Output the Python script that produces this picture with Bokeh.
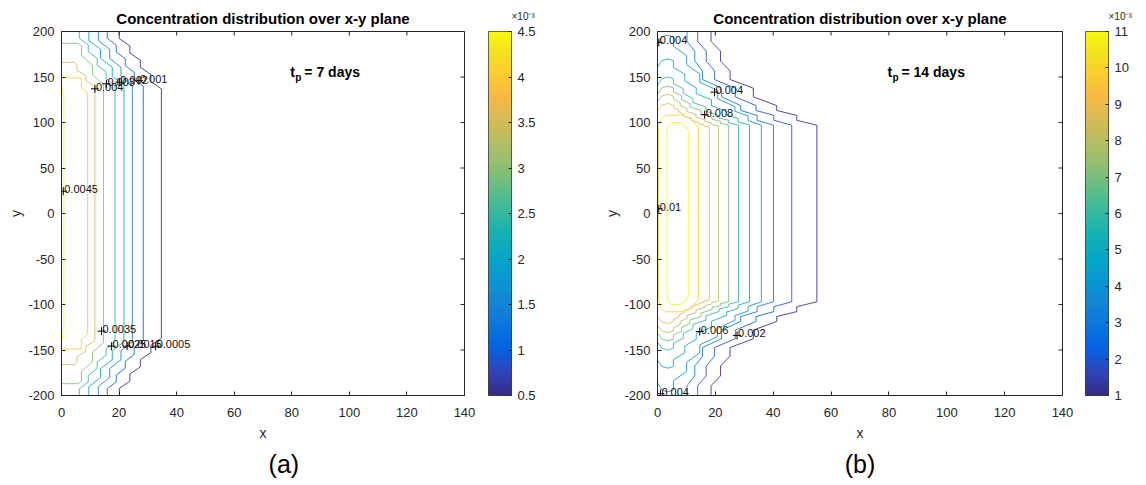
import numpy as np
from bokeh.plotting import figure
from bokeh.layouts import row
from bokeh.models import (Range1d, FixedTicker, LinearColorMapper, LinearAxis, Title,
                          CustomJSTickFormatter, ColumnDataSource)
from bokeh.core.properties import value
from bokeh.embed import file_html
from bokeh.resources import INLINE

FONT = "Liberation Sans"
INK = "#262626"
FIG_H = 484
FRAME_TOP = 31      # distance of the axes box from the page top
FRAME_H = 364

# ---------------- data ----------------
X_TICKS = [0, 20, 40, 60, 80, 100, 120, 140]
Y_TICKS = [-200, -150, -100, -50, 0, 50, 100, 150, 200]
TITLE = "Concentration distribution over x-y plane"
TP_TEXT = ["= 7 days", "= 14 days"]
PANEL_TAGS = ["\u00a0" * 6 + "(a)", "(b)"]
CBAR_EXPONENT = "\u00d710\u207b\u00b3"

# panel (a): t_p = 7 days, contour levels in units of 1e-3
A_CBAR_TICKS = [0.5, 1, 1.5, 2, 2.5, 3, 3.5, 4, 4.5]
A_LEVELS = [0.5, 1.0, 1.5, 2.0, 2.5, 3.0, 3.5, 4.0, 4.5]
A_X_SIDE = [34.7, 28.4, 24.6, 21.7, 18.6, 14.6, 11.6, 9.1, 0.8]     # x of straight part
A_Y_SIDE = [137, 140, 141, 141, 141, 142, 140, 132, 128]             # |y| where it ends
A_X_OPEN = [20.1, 15.9, 12.8, 9.5, 6.2, 0.0, 0.0, 0.0, 0.0]          # x where it meets y=+-200
A_Y_OPEN = [200, 200, 200, 200, 200, 187, 166, 149, 140]             # |y| where it meets boundary
A_X_FLAT = [0.0, 0.0, 0.0, 0.0, 0.0, 5.9, 4.5, 6.6, 0.0]             # flat top of arches
A_LABEL_TEXT = ["0.0045", "0.004", "0.003", "0.002", "0.001", "0.0035", "0.0025", "0.0015", "0.0005"]
A_LABEL_X = [0.6, 11.6, 15.6, 20.1, 26.9, 13.9, 17.4, 22.8, 32.7]
A_LABEL_Y = [24.5, 137, 142.5, 144.3, 146, -129.3, -145.8, -145.8, -145.8]

# panel (b): t_p = 14 days, contour levels in units of 1e-3
B_CBAR_TICKS = [1, 2, 3, 4, 5, 6, 7, 8, 9, 10, 11]
B_LEVELS = [1, 2, 3, 4, 5, 6, 7, 8, 9, 10, 11]
B_X_SIDE = [55.1, 46.4, 40.1, 35.9, 31.8, 28.0, 24.6, 21.1, 17.9, 14.2, 10.8]
B_Y_SIDE = [97, 97, 97, 97, 97, 97, 97, 96, 95, 94, 90]
B_X_OPEN = [18.5, 13.9, 10.2, 0.0, 0.0, 0.0, 0.0, 0.0, 0.0, 0.3, 3.3]
B_Y_OPEN = [200, 200, 200, 186, 161, 141, 131, 123, 113, 95, 90]
B_Y_TOP = [200, 200, 200, 196, 170, 150, 140, 131, 121, 108, 100]
B_CLOSED = [False] * 9 + [True, True]
B_LABEL_TEXT = ["0.004", "0.004", "0.008", "0.01", "0.006", "0.002", "0.004"]
B_LABEL_X = [0.45, 19.7, 16.3, 0.45, 14.6, 27.5, 1.0]
B_LABEL_Y = [188, 133.3, 108.5, 5.2, -129.7, -134, -198]

# parula colormap anchors
PARULA_T = [0, 4, 8, 12, 16, 20, 24, 28, 32, 36, 40, 44, 48, 52, 56, 60, 63]
PARULA_RGB = [
    (0.2081, 0.1663, 0.5292), (0.1959, 0.2645, 0.7279), (0.0117, 0.3875, 0.8820),
    (0.0498, 0.4586, 0.8641), (0.0793, 0.5200, 0.8312), (0.0343, 0.5966, 0.8199),
    (0.0228, 0.6535, 0.7768), (0.0843, 0.6928, 0.7062), (0.2178, 0.7250, 0.6193),
    (0.3953, 0.7459, 0.5244), (0.5709, 0.7485, 0.4494), (0.7184, 0.7411, 0.3905),
    (0.8507, 0.7299, 0.3360), (0.9739, 0.7314, 0.2666), (0.9880, 0.8066, 0.1794),
    (0.9589, 0.8949, 0.1132), (0.9763, 0.9831, 0.0538)]


def parula(t):
    t = min(max(t, 0.0), 1.0) * 63.0
    rgb = [np.interp(t, PARULA_T, [c[k] for c in PARULA_RGB]) for k in range(3)]
    return "#%02x%02x%02x" % tuple(int(round(v * 255)) for v in rgb)


PALETTE = [parula(i / 255.0) for i in range(256)]


# ---------------- contour geometry helpers ----------------
def stairs(x0, y0, x1, y1, n, vfrac=0.5):
    pts = []
    dx = (x1 - x0) / n
    dy = (y1 - y0) / n
    for k in range(n):
        xa, ya = x0 + k * dx, y0 + k * dy
        pts.append((xa, ya + vfrac * dy))
        pts.append((xa + dx, ya + dy))
    return pts


def curve(x0, y0, x1, y1, ts, fs):
    pts = []
    prev = (x0, y0)
    for t, f in zip(ts[1:], fs[1:]):
        nxt = (x0 + f * (x1 - x0), y0 + t * (y1 - y0))
        pts += stairs(prev[0], prev[1], nxt[0], nxt[1], 2)
        prev = nxt
    return pts


def full_path(top, closed=False):
    pts = list(top) + [(x, -y) for (x, y) in reversed(top)]
    if closed:
        pts.append(top[0])
    return [p[0] for p in pts], [p[1] for p in pts]


def a_top(i):
    xs, ys = A_X_SIDE[i], A_Y_SIDE[i]
    xo, yo, xf = A_X_OPEN[i], A_Y_OPEN[i], A_X_FLAT[i]
    if yo >= 200:
        n = max(1, int(round((xs - xo) / 3.5)))
        return [(xo, 200)] + stairs(xo, 200, xs, ys, n)
    if xf > 0:
        xc = xf + 0.12 * (xs - xf)
        n = max(1, int(round((xs - xc) / 3.5)))
        return [(0, yo), (xf, yo), (xc, yo - 3)] + stairs(xc, yo - 3, xs, ys, n)
    return [(0, yo), (xs, ys)]


OUT_T, OUT_F = [0.0, 0.42, 0.79, 1.0], [0.0, 0.18, 0.62, 1.0]
ARC_T, ARC_F = [0.0, 0.42, 0.79, 1.0], [0.0, 0.30, 0.70, 1.0]


def b_top(i):
    xs, ys = B_X_SIDE[i], B_Y_SIDE[i]
    xo, yo, yt = B_X_OPEN[i], B_Y_OPEN[i], B_Y_TOP[i]
    if B_CLOSED[i]:
        w, h = xs - xo, yt - yo
        return [(xo, yo), (xo + 0.06 * w, yo + 0.6 * h), (xo + 0.18 * w, yt),
                (xo + 0.6 * w, yt), (xo + 0.84 * w, yt - 0.35 * h), (xs, ys)]
    if yo >= 200:
        return [(xo, 200)] + curve(xo, 200, xs, ys, OUT_T, OUT_F)
    return [(0, yo), (1.5, yt - 2), (3.5, yt), (5.5, yt - 2)] + curve(5.5, yt - 2, xs, ys, ARC_T, ARC_F)


# ---------------- figures ----------------
def style_axis(ax):
    ax.axis_line_color = INK
    ax.major_tick_line_color = INK
    ax.major_tick_in = 4
    ax.major_tick_out = 0
    ax.minor_tick_line_color = None
    ax.major_label_text_font = FONT
    ax.major_label_text_color = INK
    ax.major_label_text_font_size = "13px"
    ax.axis_label_text_font = FONT
    ax.axis_label_text_font_style = "normal"
    ax.axis_label_text_font_size = "14px"
    ax.axis_label_text_color = INK
    ax.formatter = CustomJSTickFormatter(code="return String(tick);")


def main_fig(width, left, frame_w, levels, lo, hi, tops, closed, lab_x, lab_y, lab_t, tp, tag):
    p = figure(width=width, height=FIG_H, x_range=Range1d(0, 140), y_range=Range1d(-200, 200),
               output_backend="svg", toolbar_location=None,
               min_border_left=left, min_border_right=width - left - frame_w,
               min_border_top=FRAME_TOP, min_border_bottom=FIG_H - FRAME_TOP - FRAME_H,
               x_axis_label="x", y_axis_label="y")
    p.xgrid.visible = False
    p.ygrid.visible = False
    p.outline_line_color = INK
    p.background_fill_color = "white"
    p.border_fill_color = "white"
    p.xaxis.ticker = FixedTicker(ticks=X_TICKS)
    p.yaxis.ticker = FixedTicker(ticks=Y_TICKS)
    style_axis(p.xaxis[0])
    style_axis(p.yaxis[0])
    p.xaxis.major_label_standoff = 12
    p.yaxis.major_label_standoff = 7
    p.xaxis.axis_label_standoff = 5
    p.yaxis.axis_label_standoff = 1

    p.title.text = TITLE
    p.title.align = "center"
    p.title.text_font = FONT
    p.title.text_font_size = "15px"
    p.title.text_font_style = "bold"
    p.title.text_color = "black"
    p.title.standoff = 10

    # panel tag "(a)" / "(b)" under the x label
    tag_axis = LinearAxis(ticker=FixedTicker(ticks=[]), axis_label=tag,
                          axis_line_color=None, major_tick_line_color=None,
                          minor_tick_line_color=None, major_label_standoff=0,
                          axis_label_standoff=6, axis_label_text_font=FONT,
                          axis_label_text_font_size="25px", axis_label_text_font_style="normal",
                          axis_label_text_color="black")
    p.add_layout(tag_axis, "below")

    # box ticks on top and right edges (pointing inwards)
    p.scatter(X_TICKS, [200] * len(X_TICKS), marker="dash", angle=np.pi / 2, size=8,
              line_color=INK, line_width=1)
    p.scatter([140] * len(Y_TICKS), Y_TICKS, marker="dash", size=8, line_color=INK, line_width=1)

    xs, ys, cols = [], [], []
    for i, lev in enumerate(levels):
        px, py = full_path(tops[i], closed[i])
        xs.append(px)
        ys.append(py)
        cols.append(parula((lev - lo) / (hi - lo)))
    src = ColumnDataSource(dict(xs=xs, ys=ys, color=cols, level=levels))
    p.multi_line(xs="xs", ys="ys", line_color="color", line_width=1, line_alpha=0.85, source=src)

    p.scatter(lab_x, lab_y, marker="cross", size=8, line_color="black", line_width=1)
    p.text(lab_x, lab_y, text=lab_t, text_font=value(FONT), text_font_size="11px",
           text_color="#111111", text_baseline="alphabetic", x_offset=1, y_offset=-2)

    tx, ty = 79.5, 155
    p.text([tx], [ty], text=["t"], text_font=value(FONT), text_font_size="14px",
           text_font_style="bold", text_baseline="middle", text_color="black")
    p.text([tx], [ty], text=["p"], text_font=value(FONT), text_font_size="10px",
           text_font_style="bold", text_baseline="middle", text_color="black",
           x_offset=5, y_offset=5)
    p.text([tx], [ty], text=[tp], text_font=value(FONT), text_font_size="14px",
           text_font_style="bold", text_baseline="middle", text_color="black",
           x_offset=14)
    return p


def cbar_fig(width, lo, hi, ticks):
    bar_w = 23
    c = figure(width=width, height=FIG_H, x_range=Range1d(0, 1), y_range=Range1d(lo, hi),
               output_backend="svg", toolbar_location=None, x_axis_location=None,
               y_axis_location="right", min_border_left=8, min_border_right=width - 8 - bar_w,
               min_border_top=FRAME_TOP, min_border_bottom=FIG_H - FRAME_TOP - FRAME_H)
    c.grid.visible = False
    c.outline_line_color = "#3c3c3c"
    c.border_fill_color = "white"
    c.title = Title(text=CBAR_EXPONENT, align="left", offset=bar_w, text_font=FONT,
                    text_font_size="10px", text_font_style="normal", text_color=INK,
                    vertical_align="top", standoff=16)
    grad = np.linspace(lo, hi, 256).reshape(-1, 1)
    c.image(image=[grad], x=0, y=lo, dw=1, dh=hi - lo,
            color_mapper=LinearColorMapper(palette=PALETTE, low=lo, high=hi))
    ax = c.yaxis[0]
    ax.ticker = FixedTicker(ticks=ticks)
    style_axis(ax)
    ax.axis_line_color = None
    ax.major_tick_in = 3
    ax.major_tick_out = 0
    ax.major_label_standoff = 6
    return c


a_tops = [a_top(i) for i in range(len(A_LEVELS))]
b_tops = [b_top(i) for i in range(len(B_LEVELS))]

pA = main_fig(480, 61, 403, A_LEVELS, 0.5, 4.5, a_tops, [False] * len(A_LEVELS),
              A_LABEL_X, A_LABEL_Y, A_LABEL_TEXT, TP_TEXT[0], PANEL_TAGS[0])
cA = cbar_fig(119, 0.5, 4.5, A_CBAR_TICKS)
pB = main_fig(478, 58, 405, B_LEVELS, 1, 11, b_tops, B_CLOSED,
              B_LABEL_X, B_LABEL_Y, B_LABEL_TEXT, TP_TEXT[1], PANEL_TAGS[1])
cB = cbar_fig(67, 1, 11, B_CBAR_TICKS)

layout = row(pA, cA, pB, cB)
open("out.html", "w").write(file_html(layout, INLINE))
